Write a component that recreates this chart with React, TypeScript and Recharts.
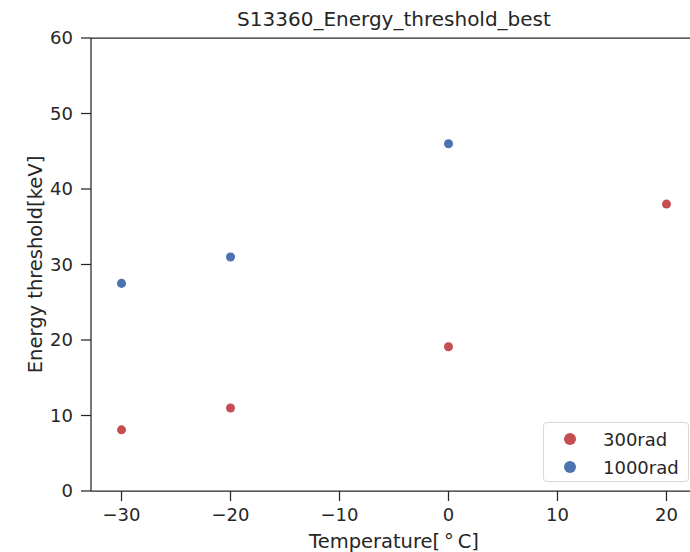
import { ScatterChart, Scatter, XAxis, YAxis, ZAxis, ReferenceLine } from 'recharts';

const temps300 = [-30, -20, 0, 20];
const thresh300 = [8.1, 11, 19.1, 38];
const temps1000 = [-30, -20, 0];
const thresh1000 = [27.5, 31, 46];
const xTicks = [-30, -20, -10, 0, 10, 20];
const yTicks = [0, 10, 20, 30, 40, 50, 60];

const RED = '#c44e52';
const BLUE = '#4c72b0';
const INK = '#262626';
const FONT = 'DejaVu Sans, sans-serif';

const series300 = temps300.map((t, i) => ({ t, e: thresh300[i] }));
const series1000 = temps1000.map((t, i) => ({ t, e: thresh1000[i] }));

const fmt = (v: number) => (v < 0 ? `\u2212${Math.abs(v)}` : `${v}`);

function LegendBox() {
    const items = [
        { name: '300rad', color: RED },
        { name: '1000rad', color: BLUE },
    ];
    return (
        <div
            style={{
                position: 'absolute',
                left: 543,
                top: 422,
                width: 146,
                height: 60,
                border: '1px solid #d9d9d9',
                borderRadius: 4,
                background: 'rgba(255,255,255,0.85)',
                fontFamily: FONT,
                fontSize: 18,
                color: INK,
                boxSizing: 'border-box',
                paddingTop: 2,
            }}
        >
            {items.map((it) => (
                <div key={it.name} style={{ display: 'flex', alignItems: 'center', height: 28 }}>
                    <span
                        style={{
                            display: 'inline-block',
                            width: 12,
                            height: 12,
                            borderRadius: '50%',
                            background: it.color,
                            marginLeft: 20,
                            marginRight: 27,
                        }}
                    />
                    <span>{it.name}</span>
                </div>
            ))}
        </div>
    );
}

export default function App() {
    return (
        <div style={{ position: 'absolute', left: 0, top: 0, width: 690, height: 552, overflow: 'hidden', background: '#fff' }}>
            <div
                style={{
                    position: 'absolute',
                    top: 8,
                    left: 91,
                    width: 606,
                    textAlign: 'center',
                    fontFamily: FONT,
                    fontSize: 20,
                    lineHeight: '23px',
                    color: INK,
                }}
            >
                S13360_Energy_threshold_best
            </div>
            <ScatterChart width={700} height={552} margin={{ top: 38, right: 3, bottom: 0, left: 0 }}>
                <XAxis
                    type="number"
                    dataKey="t"
                    domain={[-32.8, 22.8]}
                    ticks={xTicks}
                    tickFormatter={fmt}
                    allowDataOverflow
                    height={61}
                    stroke={INK}
                    strokeWidth={1.25}
                    tickSize={10}
                    tickMargin={7}
                    tick={{ fill: INK, fontSize: 18, fontFamily: FONT }}
                    label={{ value: 'Temperature[\u2009\u00b0\u2009C]', position: 'insideBottom', offset: 4, fill: INK, fontSize: 19.5, fontFamily: FONT }}
                />
                <YAxis
                    type="number"
                    dataKey="e"
                    domain={[0, 60]}
                    ticks={yTicks}
                    allowDataOverflow
                    width={91}
                    stroke={INK}
                    strokeWidth={1.25}
                    tickSize={10}
                    tickMargin={8}
                    tick={{ fill: INK, fontSize: 18, fontFamily: FONT }}
                    label={{ value: 'Energy threshold[keV]', angle: -90, position: 'insideLeft', offset: 35, fill: INK, fontSize: 19.5, fontFamily: FONT, style: { textAnchor: 'middle' } }}
                />
                <ZAxis range={[120, 120]} />
                <ReferenceLine y={60} stroke={INK} strokeWidth={1.25} />
                <Scatter name="300rad" data={series300} fill={RED} isAnimationActive={false} />
                <Scatter name="1000rad" data={series1000} fill={BLUE} isAnimationActive={false} />
            </ScatterChart>
            <LegendBox />
        </div>
    );
}
